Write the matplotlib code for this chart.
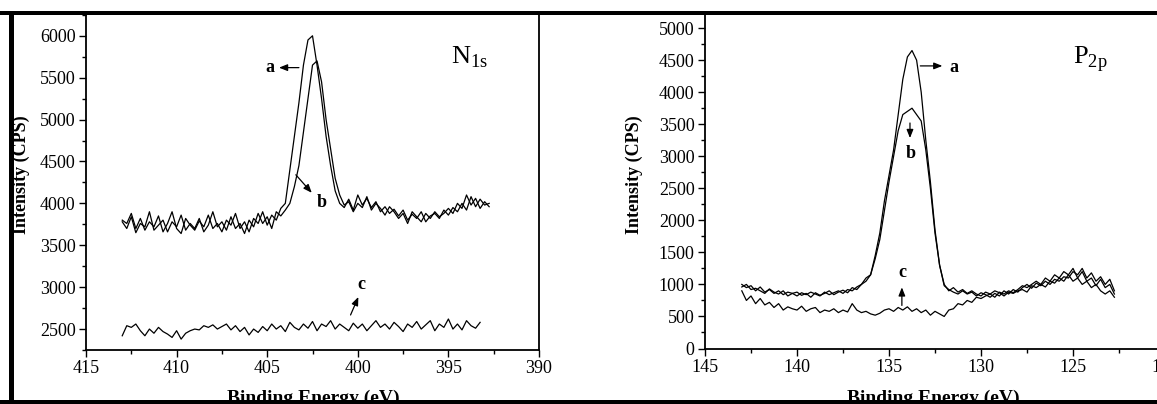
"""XPS N1s / P2p spectra, two panels (a, b, c samples)."""

import matplotlib

matplotlib.use("Agg")
import matplotlib.pyplot as plt
import numpy as np
from matplotlib.patches import Rectangle
from matplotlib.ticker import MultipleLocator

plt.rcParams["font.family"] = ["Liberation Serif", "DejaVu Serif"]
plt.rcParams["mathtext.fontset"] = "custom"
plt.rcParams["mathtext.rm"] = "Liberation Serif"

# ---- N1s panel (binding energy 413 -> 392.75 eV, 0.25 eV steps) ----
n1s_a = [
    3800, 3760, 3880, 3700, 3820, 3680, 3780, 3720,
    3850, 3660, 3760, 3900, 3700, 3640, 3820, 3740,
    3680, 3790, 3720, 3860, 3700, 3760, 3660, 3800,
    3740, 3880, 3700, 3780, 3660, 3820, 3760, 3900,
    3740, 3860, 3800, 3940,
    4000, 4400, 4800, 5200, 5650, 5950, 6000, 5650,
    5250, 4800, 4450, 4150, 4000, 3950, 4050, 3920,
    4100, 3980, 4060, 3950, 4020, 3900, 3960, 3880,
    3930, 3850, 3920, 3800, 3870, 3820, 3900, 3780,
    3850, 3880, 3820, 3920, 3860, 3950, 3900, 4000,
    3920, 4080, 3960, 4050, 3980, 4000,
]
n1s_b = [
    3780, 3700, 3840, 3650, 3760, 3720, 3900, 3680,
    3740, 3800, 3660, 3780, 3720, 3860, 3680, 3760,
    3700, 3820, 3660, 3740, 3900, 3720, 3780, 3680,
    3840, 3700, 3760, 3640, 3800, 3720, 3880, 3760,
    3840, 3700, 3900, 3850,
    3920, 4000, 4200, 4450, 4850, 5250, 5650, 5700,
    5450, 5000, 4650, 4300, 4100, 3980, 4020, 3900,
    4000, 3950, 4080, 3920, 4000, 3940, 3860, 3960,
    3900, 3820, 3880, 3760, 3900, 3840, 3780, 3880,
    3820, 3900, 3840, 3880, 3940, 3880, 4000, 3940,
    4100, 3980, 4060, 3940, 4020, 3960,
]
n1s_c = [
    2420, 2540, 2520, 2560, 2480, 2420, 2500, 2450,
    2520, 2470, 2440, 2400, 2480, 2380, 2450, 2480,
    2500, 2490, 2540, 2520, 2550, 2500, 2530, 2560,
    2490, 2540, 2470, 2520, 2430, 2500, 2460, 2530,
    2480, 2560, 2500, 2540, 2470, 2580, 2520, 2490,
    2560, 2510, 2590, 2480, 2560, 2530, 2600, 2500,
    2560, 2520, 2480, 2570, 2510, 2560, 2480, 2540,
    2600, 2520, 2560, 2500, 2580, 2530, 2470, 2560,
    2520, 2590, 2500, 2550, 2600, 2480, 2560, 2520,
    2620, 2500, 2560, 2490, 2600, 2540, 2510, 2580,
]

# ---- P2p panel (binding energy 143 -> 122.75 eV, 0.25 eV steps) ----
p2p_a = [
    1000, 950, 980, 900, 960, 880, 920, 860,
    900, 840, 880, 860, 820, 870, 840, 880,
    850, 820, 880, 840, 870, 900, 860, 920,
    900, 960, 1000, 1100, 1150, 1450, 1800, 2300,
    2700, 3100, 3650, 4200, 4550, 4650, 4500, 4000,
    3250, 2600, 1850, 1300, 980, 920, 880, 850,
    900, 850, 880, 820, 870, 840, 800, 860,
    820, 900, 850, 920, 880, 950, 1000, 940,
    1020, 980, 1050, 1000, 1080, 1050, 1120, 1100,
    1200, 1150, 1250, 1100, 1180, 1050, 1120, 1000,
    1080, 900,
]
p2p_b = [
    960, 1000, 920, 940, 900, 860, 930, 880,
    850, 900, 820, 860, 880, 830, 860, 800,
    870, 830, 860, 900, 840, 880, 910, 870,
    950, 920, 1000, 1050, 1150, 1400, 1700, 2150,
    2600, 3000, 3400, 3650, 3700, 3750, 3650, 3550,
    3100, 2500, 1800, 1300, 1000, 900, 950, 880,
    920, 860, 900, 850, 820, 880, 850, 900,
    870, 820, 880, 860, 900, 920, 880, 980,
    950, 1000, 960, 1050, 1020, 1100, 1050, 1150,
    1250, 1100, 1200, 1050, 1100, 980, 1080, 950,
    1000, 850,
]
p2p_c = [
    900, 750, 820, 700, 780, 680, 720, 640,
    700, 600, 650, 620, 600, 660, 580, 620,
    640, 560, 600, 580, 620, 560, 600, 570,
    700, 600, 560, 580, 540, 520, 550, 600,
    620, 580, 640, 600, 650, 580, 620, 560,
    600, 520, 580, 540, 500, 600, 620, 700,
    680, 750, 720, 800, 780, 820, 850, 800,
    880, 850, 900, 870, 920, 980, 950, 1000,
    1050, 1000, 1100, 1050, 1150, 1100, 1200, 1150,
    1050, 1100, 1000, 1050, 950, 1000, 900, 850,
    900, 800,
]

n1s_energy = np.linspace(413.0, 392.75, len(n1s_a))
n1s_energy_c = np.linspace(413.0, 393.25, len(n1s_c))
p2p_energy = np.linspace(143.0, 122.75, len(p2p_a))

W, H = 1157, 404
fig = plt.figure(figsize=(W / 100, H / 100), dpi=100)


def px_axes(left, right, top, bottom):
    return fig.add_axes([left / W, (H - bottom) / H, (right - left) / W, (bottom - top) / H])


def style(ax):
    for side in ("top", "right", "left", "bottom"):
        ax.spines[side].set_linewidth(1.3)
    ax.tick_params(which="both", direction="out", top=False, right=False, labelsize=13, width=1.0)
    ax.tick_params(which="major", length=5, pad=2.5)
    ax.tick_params(which="minor", length=3)


def arrow(ax, start, end):
    ax.annotate("", xy=end, xytext=start,
                arrowprops=dict(arrowstyle="-|>,head_length=0.5,head_width=0.2", color="black", lw=0.9,
                                shrinkA=0, shrinkB=0))


label_font = dict(fontsize=13, fontweight="bold")

# left panel
ax1 = px_axes(86, 539, 14, 350)
ax1.plot(n1s_energy, n1s_a, color="black", lw=0.9)
ax1.plot(n1s_energy, n1s_b, color="black", lw=0.9)
ax1.plot(n1s_energy_c, n1s_c, color="black", lw=0.9)
ax1.set_xlim(415, 390)
ax1.set_ylim(2250, 6260)
ax1.xaxis.set_major_locator(MultipleLocator(5))
ax1.xaxis.set_minor_locator(MultipleLocator(2.5))
ax1.yaxis.set_major_locator(MultipleLocator(500))
ax1.yaxis.set_minor_locator(MultipleLocator(250))
style(ax1)
ax1.text(0.806, 0.852, r"N$_{\mathrm{1s}}$", transform=ax1.transAxes, fontsize=19)
ax1.text(404.84, 5620, "a", ha="center", va="center", **label_font)
arrow(ax1, (403.25, 5620), (404.35, 5620))
ax1.text(402.0, 4006, "b", ha="center", va="center", **label_font)
arrow(ax1, (403.42, 4341), (402.54, 4126))
ax1.text(399.8, 3027, "c", ha="center", va="center", **label_font)
arrow(ax1, (400.4, 2668), (399.97, 2883))

# right panel (cut off at the right edge of the picture)
ax2 = px_axes(705, 1165, 14, 348.5)
ax2.plot(p2p_energy, p2p_a, color="black", lw=0.9)
ax2.plot(p2p_energy, p2p_b, color="black", lw=0.9)
ax2.plot(p2p_energy, p2p_c, color="black", lw=0.9)
ax2.set_xlim(145, 120)
ax2.set_ylim(0, 5220)
ax2.xaxis.set_major_locator(MultipleLocator(5))
ax2.xaxis.set_minor_locator(MultipleLocator(2.5))
ax2.yaxis.set_major_locator(MultipleLocator(500))
ax2.yaxis.set_minor_locator(MultipleLocator(250))
style(ax2)
ax2.text(0.80, 0.851, r"P$_{\mathrm{2p}}$", transform=ax2.transAxes, fontsize=19)
ax2.text(131.49, 4379, "a", ha="center", va="center", **label_font)
arrow(ax2, (133.3, 4410), (132.1, 4410))
ax2.text(133.8, 3050, "b", ha="center", va="center", **label_font)
arrow(ax2, (133.86, 3519), (133.86, 3284))
ax2.text(134.3, 1189, "c", ha="center", va="center", **label_font)
arrow(ax2, (134.3, 672), (134.3, 954))

# axis titles
fig.text(21 / W, 1 - 175 / H, "Intensity (CPS)", rotation=90, ha="center", va="center", **label_font)
fig.text(634 / W, 1 - 175 / H, "Intensity (CPS)", rotation=90, ha="center", va="center", **label_font)
fig.text(313 / W, 1 - 403 / H, "Binding Energy (eV)", ha="center", va="baseline", fontsize=14,
         fontweight="bold")
fig.text(933 / W, 1 - 403 / H, "Binding Energy (eV)", ha="center", va="baseline", fontsize=14,
         fontweight="bold")

# scanned frame
for x0, y0, w, h in [(0, 11.5, W, 3.5), (0, 400, W, 4), (9, 11.5, 4.5, 392.5)]:
    fig.add_artist(Rectangle((x0 / W, 1 - (y0 + h) / H), w / W, h / H, transform=fig.transFigure,
                             facecolor="black", edgecolor="none", zorder=10))

fig.savefig("out.png", dpi=100)
